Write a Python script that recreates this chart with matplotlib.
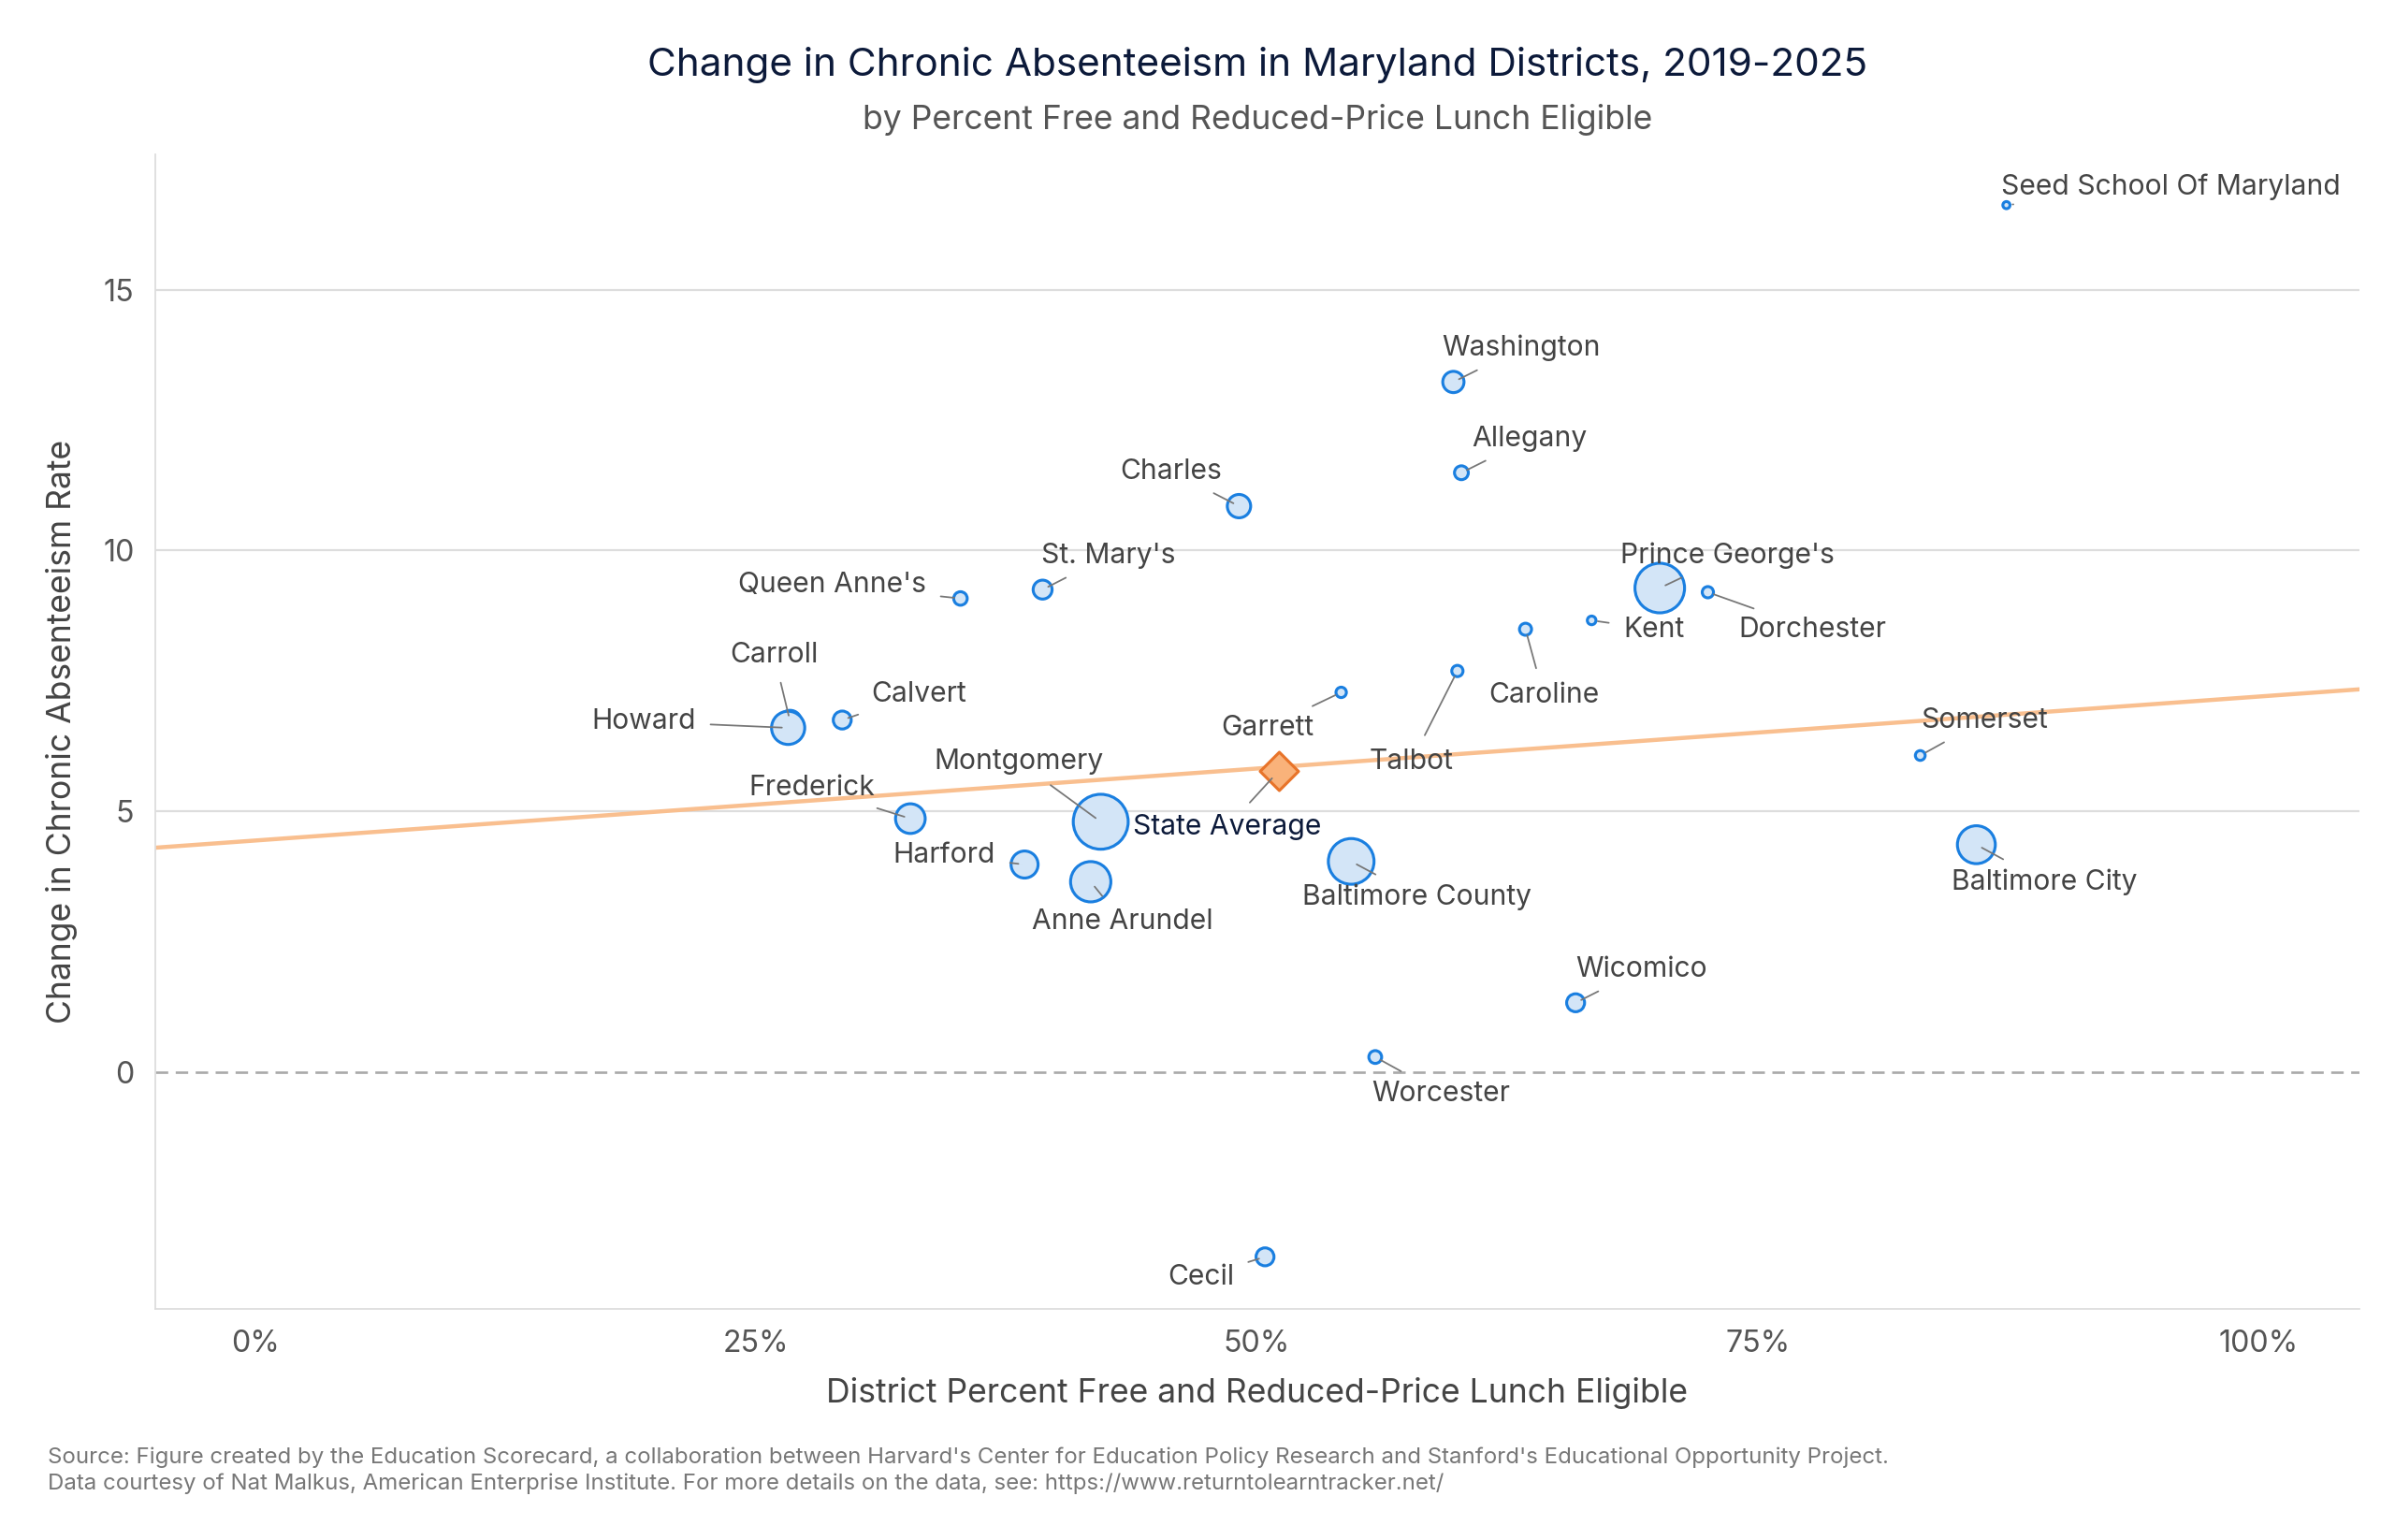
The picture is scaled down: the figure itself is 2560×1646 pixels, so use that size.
import matplotlib
matplotlib.use("Agg")
import matplotlib.pyplot as plt

plt.rcParams['font.family'] = ['Inter', 'DejaVu Sans']

names = ["Seed School Of Maryland","Washington","Allegany","Charles","St. Mary's","Queen Anne's",
         "Prince George's","Dorchester","Kent","Caroline","Talbot","Garrett","Carroll","Howard",
         "Calvert","Somerset","Frederick","Montgomery","Baltimore County","Baltimore City",
         "Harford","Anne Arundel","Wicomico","Worcester","Cecil"]
frl = [87.4,59.8,60.2,49.1,39.3,35.2,70.1,72.5,66.7,63.4,60.0,54.2,26.7,26.6,29.3,83.1,32.7,42.2,54.7,85.9,38.4,41.7,65.9,55.9,50.4]
change = [16.62,13.23,11.49,10.85,9.25,9.08,9.28,9.2,8.66,8.49,7.69,7.28,6.72,6.6,6.75,6.07,4.86,4.8,4.04,4.36,3.98,3.65,1.33,0.29,-3.54]
enroll = [0.4,22,8,27,17,7.5,130,4.5,1.7,5.5,4.5,3.5,25,57,15,2.8,45,160,110,75,37,85,15,6.5,15]
state_avg = (51.1, 5.78)
trend_intercept = 4.44
trend_slope = 0.0276

label_pos = {"Seed School Of Maryland":(95.6,16.97),"Washington":(63.2,13.88),"Allegany":(63.6,12.14),
 "Charles":(45.7,11.52),"St. Mary's":(42.6,9.9),"Queen Anne's":(28.8,9.34),"Prince George's":(73.5,9.9),
 "Dorchester":(77.7,8.49),"Kent":(69.8,8.49),"Caroline":(64.3,7.22),"Talbot":(57.7,5.95),"Garrett":(50.5,6.6),
 "Carroll":(25.9,7.99),"Howard":(19.4,6.72),"Calvert":(33.1,7.25),"Somerset":(86.3,6.75),
 "Frederick":(27.8,5.45),"Montgomery":(38.1,5.95),"Baltimore County":(58.0,3.36),"Baltimore City":(89.3,3.65),
 "Harford":(34.4,4.16),"Anne Arundel":(43.3,2.89),"Wicomico":(69.2,1.97),"Worcester":(59.2,-0.41),"Cecil":(47.2,-3.92)}

fig = plt.figure(figsize=(16, 10.2875), dpi=160)
ax = fig.add_axes([0.0647, 0.150, 0.9203, 0.750])
ax.set_xlim(-5, 105)
ax.set_ylim(-4.54, 17.6)

for v in [5, 10, 15]:
    ax.axhline(v, color='#dddddd', lw=1, zorder=0)
ax.axhline(0, color='#aaaaaa', lw=1.2, ls=(0, (5, 3)), zorder=0)

xs = [-5, 105]
ax.plot(xs, [trend_intercept + trend_slope * x for x in xs], color='#f9bf8f', lw=2, zorder=1)

sizes = [10 + e * 4.3 for e in enroll]
ax.scatter(frl, change, s=sizes, facecolor='#d3e5f7', edgecolor='#1a7fe0', lw=1.4, zorder=3)
ax.scatter([state_avg[0]], [state_avg[1]], s=170, marker='D', facecolor='#f9b27a', edgecolor='#e8742a', lw=1.4, zorder=4)

for n, x, y in zip(names, frl, change):
    lx, ly = label_pos[n]
    ax.annotate(n, (x, y), xytext=(lx, ly), ha='center', va='center', fontsize=13.5, color='#444444',
                arrowprops=dict(arrowstyle='-', color='#777777', lw=0.8, shrinkA=5, shrinkB=3), zorder=5)
ax.annotate("State Average", state_avg, xytext=(48.5, 4.69), ha='center', va='center', fontsize=13.5, color='#0c1a3a',
            arrowprops=dict(arrowstyle='-', color='#777777', lw=0.8, shrinkA=5, shrinkB=5), zorder=5)

ax.set_xticks([0, 25, 50, 75, 100])
ax.set_xticklabels(["0%", "25%", "50%", "75%", "100%"])
ax.set_yticks([0, 5, 10, 15])
ax.tick_params(length=0, labelsize=14.5, colors='#555555', pad=10)
for s in ['top', 'right']:
    ax.spines[s].set_visible(False)
for s in ['left', 'bottom']:
    ax.spines[s].set_color('#dddddd')
ax.set_xlabel("District Percent Free and Reduced-Price Lunch Eligible", fontsize=16, color='#444444', labelpad=9)
ax.set_ylabel("Change in Chronic Absenteeism Rate", fontsize=16, color='#444444', labelpad=12)

fig.text(0.525, 0.958, "Change in Chronic Absenteeism in Maryland Districts, 2019-2025", ha='center', va='center', fontsize=19, color='#0c1a3a')
fig.text(0.525, 0.922, "by Percent Free and Reduced-Price Lunch Eligible", ha='center', va='center', fontsize=16, color='#555555')
fig.text(0.02, 0.045, "Source: Figure created by the Education Scorecard, a collaboration between Harvard's Center for Education Policy Research and Stanford's Educational Opportunity Project.\nData courtesy of Nat Malkus, American Enterprise Institute. For more details on the data, see: https://www.returntolearntracker.net/",
         ha='left', va='center', fontsize=10.8, color='#777777', linespacing=1.3)

fig.savefig("out.png", dpi=160)
